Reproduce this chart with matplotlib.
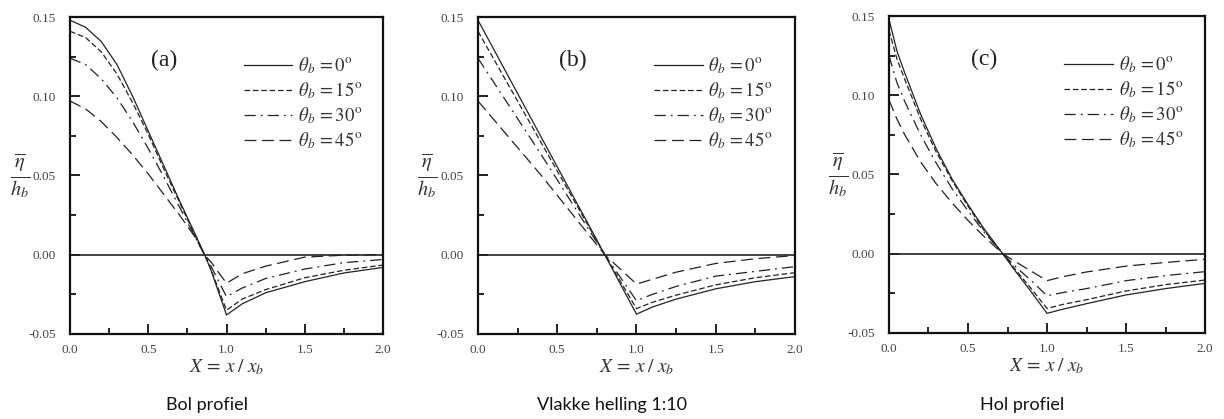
import numpy as np
import matplotlib
matplotlib.use('Agg')
import matplotlib.pyplot as plt

plt.rcParams['mathtext.fontset'] = 'stix'
plt.rcParams['font.family'] = 'Liberation Serif'

# (a) bol profiel
x_a = [0.0, 0.1, 0.2, 0.3, 0.4, 0.5, 0.6, 0.7, 0.8, 0.86, 0.9, 1.0, 1.1, 1.25, 1.5, 1.75, 2.0]
a0 = [0.148, 0.1435, 0.1345, 0.120, 0.100, 0.078, 0.056, 0.034, 0.013, 0.0, -0.0095, -0.038, -0.031, -0.024, -0.017, -0.0115, -0.008]
a15 = [0.141, 0.137, 0.128, 0.114, 0.096, 0.076, 0.054, 0.033, 0.012, 0.0, -0.009, -0.035, -0.028, -0.022, -0.0145, -0.0098, -0.0065]
a30 = [0.124, 0.120, 0.111, 0.099, 0.084, 0.067, 0.049, 0.030, 0.011, 0.0, -0.007, -0.0265, -0.021, -0.015, -0.009, -0.005, -0.003]
a45 = [0.097, 0.092, 0.084, 0.074, 0.063, 0.051, 0.038, 0.025, 0.011, 0.0, -0.0045, -0.018, -0.012, -0.0072, -0.0015, -0.0003, 0.0]

# (b) vlakke helling 1:10
x_b = [0.0, 0.4, 0.8, 1.0, 1.1, 1.25, 1.5, 1.75, 2.0]
b0 = [0.148, 0.074, 0.0, -0.0375, -0.033, -0.028, -0.0215, -0.017, -0.0138]
b15 = [0.141, 0.0705, 0.0, -0.034, -0.030, -0.0255, -0.019, -0.0145, -0.0113]
b30 = [0.124, 0.063, 0.0, -0.029, -0.025, -0.020, -0.0135, -0.0105, -0.0075]
b45 = [0.097, 0.050, 0.0, -0.0185, -0.0155, -0.011, -0.0055, -0.0025, -0.0005]

# (c) hol profiel
x_c = [0.0, 0.05, 0.1, 0.2, 0.3, 0.4, 0.5, 0.6, 0.72, 0.8, 0.9, 1.0, 1.1, 1.25, 1.5, 1.75, 2.0]
c0 = [0.148, 0.128, 0.114, 0.088, 0.066, 0.047, 0.031, 0.016, 0.0, -0.011, -0.024, -0.0376, -0.035, -0.0315, -0.026, -0.022, -0.0187]
c15 = [0.141, 0.123, 0.110, 0.085, 0.064, 0.046, 0.030, 0.015, 0.0, -0.010, -0.022, -0.0345, -0.032, -0.029, -0.0235, -0.0195, -0.0166]
c30 = [0.125, 0.108, 0.096, 0.075, 0.057, 0.041, 0.027, 0.014, 0.0, -0.008, -0.017, -0.0265, -0.0245, -0.022, -0.017, -0.0138, -0.0113]
c45 = [0.097, 0.085, 0.075, 0.058, 0.044, 0.032, 0.021, 0.011, 0.0, -0.005, -0.011, -0.017, -0.0145, -0.0115, -0.0078, -0.0055, -0.0035]

angles = [0, 15, 30, 45]
panel_tags = ['(a)', '(b)', '(c)']
captions = ['Bol profiel', 'Vlakke helling 1:10', 'Hol profiel']
xticks = [0.0, 0.5, 1.0, 1.5, 2.0]
yticks = [-0.05, 0.00, 0.05, 0.10, 0.15]

panels = [(x_a, [a0, a15, a30, a45]),
          (x_b, [b0, b15, b30, b45]),
          (x_c, [c0, c15, c30, c45])]

styles = ['-', (0, (4.5, 2.2)), (0, (9, 4, 1.5, 4)), (0, (9.5, 4.5))]
lc = '#222222'

fig = plt.figure(figsize=(12.24, 4.19), dpi=100)
rects = [[0.0572, 0.2029, 0.2557, 0.7565],
         [0.3905, 0.2029, 0.2590, 0.7565],
         [0.7263, 0.2053, 0.2582, 0.7565]]
cap_x = [207 / 1224, 612 / 1224, 1022 / 1224]

for i, (x, series) in enumerate(panels):
    ax = fig.add_axes(rects[i])
    for ang, y, ls in zip(angles, series, styles):
        ax.plot(x, y, color=lc, lw=0.9, linestyle=ls,
                label=r'$\theta_b\,=%d^{\mathrm{o}}$' % ang)
    ax.axhline(0, color=lc, lw=1.2)
    ax.set_xlim(0, 2)
    ax.set_ylim(-0.05, 0.15)
    ax.set_xticks(xticks)
    ax.set_xticklabels(['%.1f' % v for v in xticks])
    ax.set_yticks(yticks)
    ax.set_yticklabels(['%.2f' % v for v in yticks])
    ax.set_xticks(np.arange(0, 2.01, 0.25), minor=True)
    ax.set_yticks(np.arange(-0.05, 0.151, 0.025), minor=True)
    ax.tick_params(which='both', direction='in', top=False, right=False,
                   width=1.4, colors='#222222', labelcolor='#444444', labelsize=9.5)
    ax.tick_params(which='major', length=7.5)
    ax.tick_params(which='minor', length=4)
    ax.tick_params(axis='y', pad=10)
    ax.tick_params(axis='x', pad=7)
    for sp in ax.spines.values():
        sp.set_linewidth(1.6)
        sp.set_color('#111111')
    ax.set_xlabel(r'$X\,=\,x\;/\;x_b$', fontsize=14, color='#333333', labelpad=1)
    ax.text(-0.16, 0.5, r'$\frac{\overline{\eta}}{h_b}$', transform=ax.transAxes,
            fontsize=21, color='#333333', ha='center', va='center')
    ax.text(0.30, 0.862, panel_tags[i], transform=ax.transAxes,
            fontsize=17, color='#222222', ha='center', va='center')
    ax.legend(loc='upper left', bbox_to_anchor=(0.555, 0.878), frameon=False,
              fontsize=13.5, handlelength=2.6, handletextpad=0.3,
              labelspacing=0.22, borderpad=0, borderaxespad=0,
              labelcolor='#333333')
    fig.text(cap_x[i], 0.033, captions[i], family='Lato', fontsize=13,
             ha='center', va='center', color='#111111')

fig.savefig('out.png', dpi=100)
